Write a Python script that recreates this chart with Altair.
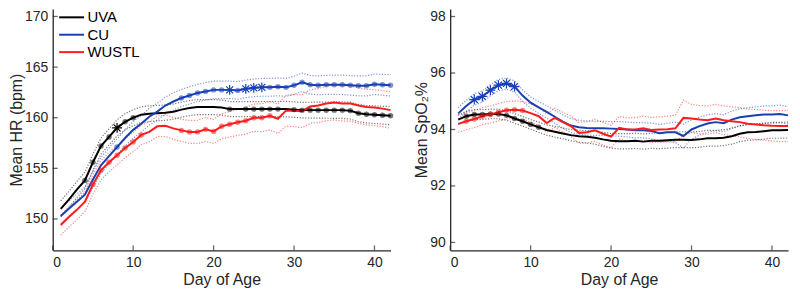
import altair as alt
import pandas as pd

SITES = ["UVA", "CU", "WUSTL"]
COLORS = ["#000000", "#1640b4", "#ff1c1c"]
DAYS = list(range(1, 43))
DAY_TICKS = [0, 10, 20, 30, 40]
HR_TICKS = [150, 155, 160, 165, 170]
SPO2_TICKS = [90, 92, 94, 96, 98]

# ---------------- Heart rate ----------------
HR_UVA = [151.0, 151.9, 152.9, 153.8, 155.6, 157.2, 158.1, 159.0, 159.6, 160.0,
          160.3, 160.4, 160.45, 160.5, 160.6, 160.8, 160.95, 161.05, 161.05, 161.05,
          161.0, 160.85, 160.85, 160.85, 160.85, 160.85, 160.85, 160.85, 160.85, 160.8,
          160.75, 160.75, 160.75, 160.75, 160.75, 160.75, 160.7, 160.45, 160.35, 160.3,
          160.25, 160.2]
HR_CU = [150.3, 151.0, 151.7, 152.4, 153.9, 155.3, 156.2, 157.1, 158.0, 158.8,
         159.4, 160.1, 160.6, 161.2, 161.6, 161.95, 162.2, 162.45, 162.6, 162.75,
         162.75, 162.75, 162.7, 162.85, 162.95, 163.0, 163.0, 163.05, 163.0, 163.2,
         163.5, 163.25, 163.2, 163.25, 163.25, 163.25, 163.2, 163.15, 163.15, 163.3,
         163.25, 163.2]
HR_WUSTL = [149.4, 150.2, 150.9, 151.7, 153.4, 154.8, 155.6, 156.3, 157.0, 157.6,
            158.3, 158.6, 159.15, 159.2, 158.95, 158.75, 158.6, 158.6, 158.85, 158.65,
            159.15, 159.35, 159.55, 159.7, 160.0, 160.0, 160.2, 159.9, 160.7, 160.7,
            160.65, 161.1, 161.2, 161.4, 161.5, 161.4, 161.4, 161.2, 161.05, 161.0,
            160.9, 160.75]
HR_UVA_CI = [0.80, 0.80, 0.80, 0.80, 0.80, 0.80, 0.80, 0.80, 0.80, 0.80,
             0.78, 0.78, 0.76, 0.75, 0.75, 0.74, 0.74, 0.74, 0.74, 0.74,
             0.74, 0.74, 0.74, 0.74, 0.74, 0.75, 0.75, 0.75, 0.76, 0.76,
             0.77, 0.78, 0.79, 0.80, 0.81, 0.82, 0.83, 0.85, 0.86, 0.87,
             0.88, 0.90]
HR_CU_CI = [0.75, 0.75, 0.76, 0.77, 0.78, 0.79, 0.80, 0.80, 0.81, 0.82,
            0.82, 0.83, 0.83, 0.84, 0.84, 0.85, 0.85, 0.85, 0.86, 0.86,
            0.86, 0.86, 0.87, 0.87, 0.87, 0.88, 0.88, 0.88, 0.89, 0.90,
            0.91, 0.92, 0.93, 0.94, 0.95, 0.96, 0.97, 0.98, 1.00, 1.01,
            1.03, 1.05]
HR_WUSTL_CI = [1.00, 1.00, 0.98, 0.97, 0.96, 0.95, 0.95, 0.95, 0.95, 0.95,
               0.97, 0.99, 1.02, 1.05, 1.08, 1.10, 1.13, 1.15, 1.18, 1.20,
               1.23, 1.26, 1.29, 1.32, 1.35, 1.38, 1.41, 1.45, 1.52, 1.58,
               1.63, 1.66, 1.68, 1.70, 1.72, 1.73, 1.74, 1.75, 1.76, 1.77,
               1.78, 1.80]
HR_DOTS = {
    "UVA": [4, 5, 6, 7, 9, 10, 22, 24, 25, 26, 27, 28, 30, 31, 32, 33, 34, 35, 36,
            37, 38, 39, 40, 41, 42],
    "CU": [8, 16, 17, 18, 19, 20, 21, 23, 27, 28, 29, 30, 31, 32, 33, 34, 35, 36,
           37, 38, 39, 40, 41, 42],
    "WUSTL": [5, 6, 7, 8, 9, 10, 11, 16, 17, 18, 19, 20, 21, 22, 23, 24, 25, 26, 27],
}
HR_STARS = {"UVA": [8], "CU": [22, 24, 25, 26], "WUSTL": []}

# ---------------- SpO2 ----------------
SP_UVA = [94.35, 94.47, 94.53, 94.53, 94.55, 94.55, 94.5, 94.39, 94.29, 94.18,
          94.08, 93.98, 93.92, 93.86, 93.8, 93.76, 93.74, 93.71, 93.65, 93.6,
          93.58, 93.58, 93.6, 93.57, 93.6, 93.6, 93.62, 93.64, 93.64, 93.63,
          93.65, 93.69, 93.69, 93.71, 93.76, 93.85, 93.9, 93.91, 93.94, 93.97,
          93.97, 93.98]
SP_CU = [94.57, 94.83, 95.06, 95.17, 95.39, 95.57, 95.63, 95.52, 95.2, 94.95,
         94.78, 94.62, 94.45, 94.28, 94.14, 94.08, 94.05, 94.04, 94.04, 94.03,
         94.02, 94.0, 93.97, 93.97, 93.95, 93.87, 93.9, 93.9, 93.77, 94.0,
         94.12, 94.21, 94.26, 94.22, 94.35, 94.43, 94.47, 94.5, 94.53, 94.53,
         94.55, 94.5]
SP_WUSTL = [94.2, 94.29, 94.37, 94.47, 94.53, 94.61, 94.68, 94.7, 94.67, 94.58,
            94.47, 94.23, 94.41, 94.26, 94.12, 93.88, 93.9, 93.97, 93.85, 93.75,
            94.06, 94.0, 94.0, 94.04, 93.98, 94.0, 94.01, 94.04, 94.41, 94.39,
            94.35, 94.33, 94.39, 94.33, 94.29, 94.26, 94.2, 94.18, 94.15, 94.13,
            94.12, 94.12]
SP_UVA_CI = [0.17, 0.17, 0.17, 0.17, 0.17, 0.17, 0.17, 0.17, 0.17, 0.17,
             0.18, 0.18, 0.19, 0.19, 0.20, 0.21, 0.22, 0.23, 0.25, 0.26,
             0.27, 0.27, 0.27, 0.27, 0.27, 0.28, 0.28, 0.28, 0.28, 0.28,
             0.28, 0.28, 0.28, 0.28, 0.28, 0.28, 0.28, 0.28, 0.28, 0.28,
             0.28, 0.28]
SP_CU_CI = [0.20, 0.20, 0.20, 0.20, 0.20, 0.20, 0.20, 0.20, 0.20, 0.20,
            0.21, 0.22, 0.23, 0.24, 0.25, 0.25, 0.25, 0.25, 0.25, 0.25,
            0.26, 0.26, 0.27, 0.27, 0.28, 0.30, 0.32, 0.36, 0.42, 0.34,
            0.32, 0.31, 0.30, 0.30, 0.30, 0.30, 0.30, 0.30, 0.30, 0.31,
            0.31, 0.31]
SP_WUSTL_CI = [0.30, 0.30, 0.30, 0.30, 0.30, 0.31, 0.31, 0.31, 0.31, 0.32,
               0.32, 0.33, 0.34, 0.35, 0.36, 0.37, 0.38, 0.39, 0.40, 0.40,
               0.40, 0.41, 0.42, 0.43, 0.44, 0.45, 0.46, 0.47, 0.62, 0.50,
               0.50, 0.50, 0.50, 0.51, 0.51, 0.52, 0.52, 0.53, 0.53, 0.54,
               0.55, 0.55]
SP_DOTS = {"UVA": [2, 3, 4, 5, 6, 7, 8, 9, 10, 11], "CU": [],
           "WUSTL": [2, 3, 4, 5, 6, 7, 8, 9]}
SP_STARS = {"UVA": [], "CU": [3, 4, 5, 6, 7, 8], "WUSTL": []}

HR_DOMAIN = [146.9, 170.75]
SP_DOMAIN = [89.72, 98.27]

AX = "#262626"
FONT = "Liberation Sans"
ASTERISK = "M0,-1L0,1M-1,0L1,0M-0.7,-0.7L0.7,0.7M-0.7,0.7L0.7,-0.7"
W, H = 340, 243


def make_df(means, cis, dots, stars):
    rows = []
    for site, col, m, c in zip(SITES, COLORS, means, cis):
        for d, v, e in zip(DAYS, m, c):
            rows.append({"site": site, "c": col, "day": d, "mean": v, "lo": v - e,
                         "hi": v + e, "dot": d in dots[site], "star": d in stars[site]})
    return pd.DataFrame(rows)


def panel(df, ydomain, yticks, ytitle, legend):
    xs = alt.Scale(domain=[0, 42], nice=False, zero=False)
    ys = alt.Scale(domain=ydomain, nice=False, zero=False)
    xaxis = alt.Axis(values=DAY_TICKS, title="Day of Age", ticks=False, grid=False,
                     labelPadding=5, titlePadding=2, format="d")
    yaxis = alt.Axis(values=yticks, title=ytitle, ticks=False, grid=False,
                     labelPadding=5, titlePadding=0, format="d")
    base = alt.Chart(df)
    x = alt.X("day:Q", scale=xs, axis=xaxis)
    stroke_id = alt.Stroke("c:N", scale=None)
    fill_id = alt.Fill("c:N", scale=None)

    layers = []
    for f in ["lo", "hi"]:
        layers.append(base.mark_line(strokeDash=[1.2, 1.6], strokeWidth=1.2, opacity=0.55).encode(
            x=x, y=alt.Y(f + ":Q", scale=ys, axis=yaxis), stroke=stroke_id, detail="site:N"))
    if legend:
        layers.append(base.mark_line(strokeWidth=2).encode(
            x=x, y=alt.Y("mean:Q", scale=ys, axis=yaxis),
            color=alt.Color("site:N", scale=alt.Scale(domain=SITES, range=COLORS),
                            legend=alt.Legend(
                                title=None, orient="none", legendX=11.5, legendY=1,
                                symbolType="M-2.5,0L2.5,0", symbolSize=100,
                                symbolStrokeWidth=2, labelFontSize=15,
                                labelColor="#000000", rowPadding=1.5, labelOffset=8.5,
                                padding=0))))
    else:
        layers.append(base.mark_line(strokeWidth=2).encode(
            x=x, y=alt.Y("mean:Q", scale=ys, axis=yaxis), stroke=stroke_id,
            detail="site:N"))
    layers.append(base.transform_filter(alt.datum.dot).mark_circle(size=30, opacity=0.55).encode(
        x=x, y=alt.Y("mean:Q", scale=ys, axis=yaxis), fill=fill_id))
    layers.append(base.transform_filter(alt.datum.star).mark_point(
        shape=ASTERISK, filled=False, size=100, strokeWidth=1.2, opacity=1).encode(
        x=x, y=alt.Y("mean:Q", scale=ys, axis=yaxis), stroke=stroke_id))
    ytk = pd.DataFrame({"v": yticks, "z": [0] * len(yticks)})
    xtk = pd.DataFrame({"d": DAY_TICKS, "z": [ydomain[0]] * len(DAY_TICKS)})
    layers.append(alt.Chart(ytk).mark_tick(orient="horizontal", size=5, thickness=1.3,
                                           xOffset=2.5, color=AX).encode(
        y=alt.Y("v:Q", scale=ys, axis=yaxis), x=alt.X("z:Q", scale=xs, axis=xaxis)))
    layers.append(alt.Chart(xtk).mark_tick(orient="vertical", size=5, thickness=1.3,
                                           yOffset=-2.5, color=AX).encode(
        x=alt.X("d:Q", scale=xs, axis=xaxis), y=alt.Y("z:Q", scale=ys, axis=yaxis)))
    return alt.layer(*layers).properties(width=W, height=H)


hr_df = make_df([HR_UVA, HR_CU, HR_WUSTL], [HR_UVA_CI, HR_CU_CI, HR_WUSTL_CI], HR_DOTS, HR_STARS)
sp_df = make_df([SP_UVA, SP_CU, SP_WUSTL], [SP_UVA_CI, SP_CU_CI, SP_WUSTL_CI], SP_DOTS, SP_STARS)

left = panel(hr_df, HR_DOMAIN, HR_TICKS, "Mean HR (bpm)", True)
right = panel(sp_df, SP_DOMAIN, SPO2_TICKS, "Mean SpO₂%", False)

chart = alt.hconcat(left, right, spacing=19).resolve_legend(
    color="independent").properties(padding=0).configure(font=FONT).configure_view(
    stroke=None).configure_axis(
    domainColor=AX, domainWidth=1.3, labelColor=AX, titleColor=AX, labelFontSize=14,
    titleFontSize=16, titleFontWeight="normal", labelFont=FONT, titleFont=FONT).configure_legend(
    labelFont=FONT)

chart.save("out.html", embed_options={"renderer": "svg", "actions": False})
